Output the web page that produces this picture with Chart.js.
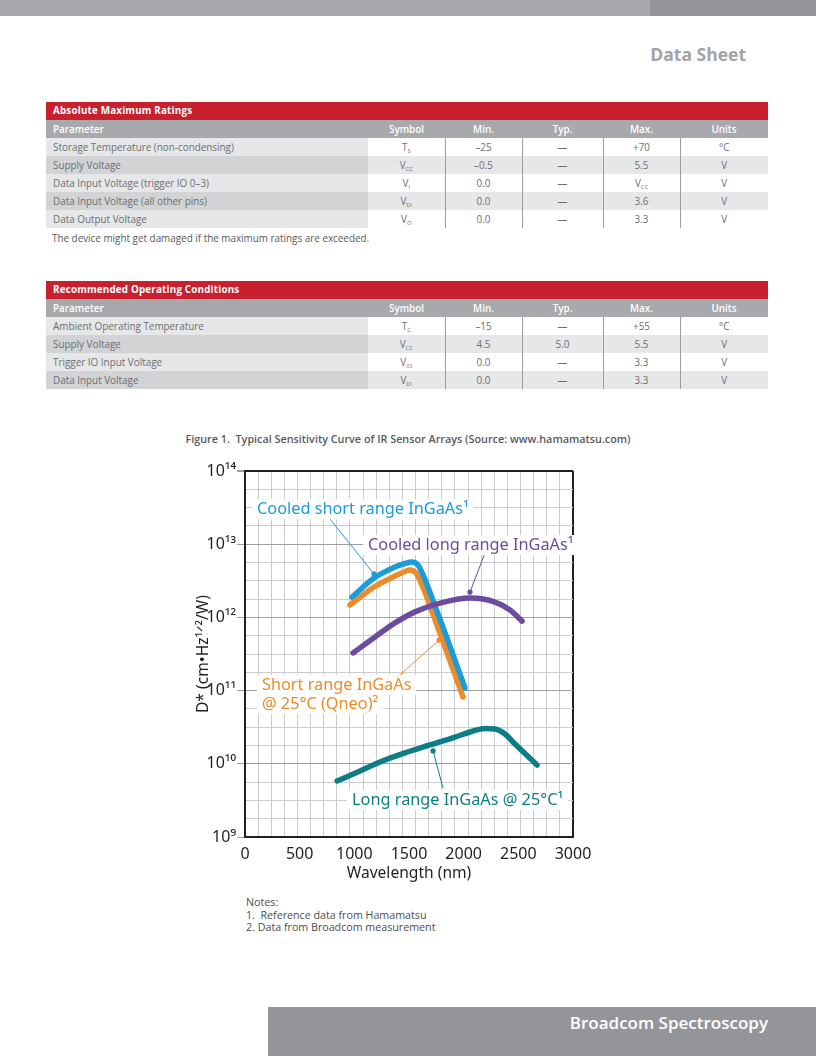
<!DOCTYPE html>
<html><head><meta charset="utf-8">
<script src="https://cdn.jsdelivr.net/npm/chart.js@4.4.1/dist/chart.umd.min.js"></script>
<style>
body{margin:0;width:816px;height:1056px;position:relative;background:#fff;font-family:"Open Sans","Noto Sans",sans-serif;overflow:hidden}
.abs{position:absolute}
.topbar1{left:0;top:0;width:650px;height:16px;background:#a7a9ac}
.topbar2{left:650px;top:0;width:166px;height:16px;background:#939598}
.ds{right:70px;top:41px;font-size:17.5px;font-weight:700;color:#a1a3a6;line-height:26px}
table{position:absolute;left:46px;width:722px;border-collapse:collapse;table-layout:fixed;font-size:9.9px;color:#6d6e71}
td{height:18px;padding:0;line-height:18px;text-align:center;white-space:nowrap}
td.p{text-align:left;padding-left:7px}
tr.t td{background:#c8202f;color:#fff;font-weight:700;text-align:left;padding-left:7px;font-size:9.8px;letter-spacing:0.2px}
tr.h td{background:#a7a9ac;color:#fff;font-weight:600}
tr.o td{background:#fff}
tr.o td.p{background:#e6e7e8}
tr.e td{background:#e6e7e8}
tr.e td.p{background:#d1d3d4}
tr.o td.s,tr.e td.s{border-left:1px solid #9a9c9f}
sub{font-size:5.8px;vertical-align:-2px;line-height:0}
.note{left:52px;font-size:9.9px;color:#58595b}
.cap{left:0;width:816px;text-align:center;top:431px;font-size:10.8px;font-weight:600;color:#58595b}
.notes{left:246px;top:896px;font-size:10.7px;color:#4d4d4f;line-height:12.5px}
.botbar{left:268px;top:1007px;width:548px;height:49px;background:#939598}
.bottxt{right:48px;top:1011px;font-size:17px;color:#fff;font-weight:600}
canvas{position:absolute;left:190px;top:455px}
</style></head><body>
<div class="abs topbar1"></div><div class="abs topbar2"></div>
<div class="abs ds">Data Sheet</div>

<table style="top:102px">
<colgroup><col style="width:322px"><col style="width:77px"><col style="width:77px"><col style="width:81px"><col style="width:77px"><col style="width:88px"></colgroup>
<tr class="t"><td colspan="6">Absolute Maximum Ratings</td></tr>
<tr class="h"><td class="p">Parameter</td><td>Symbol</td><td>Min.</td><td>Typ.</td><td>Max.</td><td>Units</td></tr>
<tr class="o"><td class="p">Storage Temperature (non-condensing)</td><td>T<sub>S</sub></td><td class="s">–25</td><td class="s">—</td><td class="s">+70</td><td class="s">°C</td></tr>
<tr class="e"><td class="p">Supply Voltage</td><td>V<sub>CC</sub></td><td class="s">–0.5</td><td class="s">—</td><td class="s">5.5</td><td class="s">V</td></tr>
<tr class="o"><td class="p">Data Input Voltage (trigger IO 0–3)</td><td>V<sub>I</sub></td><td class="s">0.0</td><td class="s">—</td><td class="s">V<sub>CC</sub></td><td class="s">V</td></tr>
<tr class="e"><td class="p">Data Input Voltage (all other pins)</td><td>V<sub>DI</sub></td><td class="s">0.0</td><td class="s">—</td><td class="s">3.6</td><td class="s">V</td></tr>
<tr class="o"><td class="p">Data Output Voltage</td><td>V<sub>O</sub></td><td class="s">0.0</td><td class="s">—</td><td class="s">3.3</td><td class="s">V</td></tr>
</table>
<div class="abs note" style="top:231px">The device might get damaged if the maximum ratings are exceeded.</div>

<table style="top:281px">
<colgroup><col style="width:322px"><col style="width:77px"><col style="width:77px"><col style="width:81px"><col style="width:77px"><col style="width:88px"></colgroup>
<tr class="t"><td colspan="6">Recommended Operating Conditions</td></tr>
<tr class="h"><td class="p">Parameter</td><td>Symbol</td><td>Min.</td><td>Typ.</td><td>Max.</td><td>Units</td></tr>
<tr class="o"><td class="p">Ambient Operating Temperature</td><td>T<sub>C</sub></td><td class="s">–15</td><td class="s">—</td><td class="s">+55</td><td class="s">°C</td></tr>
<tr class="e"><td class="p">Supply Voltage</td><td>V<sub>CC</sub></td><td class="s">4.5</td><td class="s">5.0</td><td class="s">5.5</td><td class="s">V</td></tr>
<tr class="o"><td class="p">Trigger IO Input Voltage</td><td>V<sub>IO</sub></td><td class="s">0.0</td><td class="s">—</td><td class="s">3.3</td><td class="s">V</td></tr>
<tr class="e"><td class="p">Data Input Voltage</td><td>V<sub>DI</sub></td><td class="s">0.0</td><td class="s">—</td><td class="s">3.3</td><td class="s">V</td></tr>
</table>

<div class="abs cap">Figure 1.&nbsp; Typical Sensitivity Curve of IR Sensor Arrays (Source: www.hamamatsu.com)</div>
<canvas id="c" width="420" height="430"></canvas>
<div class="abs notes">Notes:<br>1.&nbsp; Reference data from Hamamatsu<br>2. Data from Broadcom measurement</div>
<div class="abs botbar"></div>
<div class="abs bottxt">Broadcom Spectroscopy</div>

<script>
// ---- data (wavelength in nm, D* in cm·Hz^1/2/W) ----
const xLabelTicks = [0, 500, 1000, 1500, 2000, 2500, 3000];
const yDecades = [9, 10, 11, 12, 13, 14];

const coolShortNm = [979, 1180, 1372, 1463, 1527, 1582, 1637, 1711, 1857, 2012];
const coolShortD  = [1.9e12, 3.45e12, 4.89e12, 5.45e12, 5.71e12, 5.2e12, 3.56e12, 1.84e12, 4.76e11, 1.09e11];

const shortQneoNm = [960, 1180, 1372, 1463, 1509, 1564, 1619, 1692, 1839, 1994];
const shortQneoD  = [1.48e12, 2.6e12, 3.68e12, 4.24e12, 4.45e12, 4.05e12, 2.77e12, 1.43e12, 3.59e11, 8.18e10];

const coolLongNm = [988, 1189, 1372, 1555, 1784, 2058, 2287, 2424, 2534];
const coolLongD  = [3.27e11, 5.4e11, 8.4e11, 1.19e12, 1.57e12, 1.84e12, 1.62e12, 1.26e12, 8.9e11];

const longNm = [842, 1052, 1235, 1463, 1692, 1921, 2058, 2195, 2287, 2378, 2470, 2671];
const longD  = [5.82e9, 7.98e9, 1.06e10, 1.41e10, 1.81e10, 2.32e10, 2.72e10, 3.03e10, 2.99e10, 2.55e10, 1.86e10, 9.63e9];

const seriesNames = ['Cooled short range InGaAs¹', 'Short range InGaAs @ 25°C (Qneo)²', 'Cooled long range InGaAs¹', 'Long range InGaAs @ 25°C¹'];

// ---- styles ----
const colors = {blue:'#1b9cd8', orange:'#ec8b2b', purple:'#6b4c9e', teal:'#0e7d85'};
const FONT = '"Noto Sans", "DejaVu Sans", sans-serif';
const dark = '#231f20';

const pts = (xs, ys) => xs.map((x, i) => ({x, y: ys[i]}));
const sup = s => String(s).split('').map(ch => '⁰¹²³⁴⁵⁶⁷⁸⁹'['0123456789'.indexOf(ch)]).join('');

// annotation placement (data units)
const notes = [
  {lines:[seriesNames[0]], color:colors.blue, x:110, y:[3.0e13], from:[777, 2.21e13], to:[1180, 3.92e12]},
  {lines:[seriesNames[2]], color:colors.purple, x:1125, y:[9.75e12], from:[2195, 7.6e12], to:[2058, 2.22e12]},
  {lines:['Short range InGaAs', '@ 25°C (Qneo)²'], color:colors.orange, x:155, y:[1.19e11, 6.56e10], from:[1345, 1.31e11], to:[1775, 4.9e11]},
  {lines:[seriesNames[3]], color:colors.teal, x:979, y:[3.2e9], from:[1811, 4.67e9], to:[1720, 1.5e10]}
];

const annot = {
  id:'annot',
  afterDatasetsDraw(c){
    const ctx = c.ctx, xs = c.scales.x, ys = c.scales.y;
    ctx.save();
    ctx.font = '16.3px ' + FONT;
    ctx.textBaseline = 'middle';
    notes.forEach(n => {
      const fx = xs.getPixelForValue(n.from[0]), fy = ys.getPixelForValue(n.from[1]);
      const tx = xs.getPixelForValue(n.to[0]), ty = ys.getPixelForValue(n.to[1]);
      ctx.strokeStyle = n.color; ctx.lineWidth = 1;
      ctx.beginPath(); ctx.moveTo(fx, fy); ctx.lineTo(tx, ty); ctx.stroke();
      ctx.fillStyle = n.color; ctx.beginPath(); ctx.arc(tx, ty, 2.6, 0, Math.PI*2); ctx.fill();
      const x = xs.getPixelForValue(n.x);
      n.lines.forEach((t, i) => {
        const y = ys.getPixelForValue(n.y[i]);
        const w = ctx.measureText(t).width;
        ctx.fillStyle = '#fff'; ctx.fillRect(x - 5, y - 10, w + 10, 20);
      });
      n.lines.forEach((t, i) => {
        const y = ys.getPixelForValue(n.y[i]);
        ctx.fillStyle = n.color; ctx.fillText(t, x, y);
      });
    });
    ctx.restore();
  }
};

const ds = (label, xs, ys, color) => ({
  label, data: pts(xs, ys), borderColor: color, backgroundColor: color,
  borderWidth: 5.5, pointRadius: 0, showLine: true, fill: false,
  cubicInterpolationMode: 'monotone', borderCapStyle: 'round', borderJoinStyle: 'round'
});

new Chart(document.getElementById('c'), {
  type: 'scatter',
  data: {datasets: [
    ds(seriesNames[3], longNm, longD, colors.teal),
    ds(seriesNames[2], coolLongNm, coolLongD, colors.purple),
    ds(seriesNames[0], coolShortNm, coolShortD, colors.blue),
    ds(seriesNames[1], shortQneoNm, shortQneoD, colors.orange)
  ]},
  options: {
    responsive: false, animation: false, devicePixelRatio: 1,
    layout: {padding: {top: 16, right: 37, left: 0, bottom: 0}},
    plugins: {legend: {display: false}, tooltip: {enabled: false}},
    scales: {
      x: {
        type: 'linear', min: 0, max: 3000,
        afterBuildTicks(s){
          const v = new Set();
          for (let i = 0; i <= 25; i++) v.add(i * 120);
          xLabelTicks.forEach(t => v.add(t));
          s.ticks = [...v].sort((a, b) => a - b).map(value => ({value}));
        },
        afterFit(s){ s.height = 48; s.paddingLeft = 0; s.paddingRight = 0; },
        ticks: {
          autoSkip: false, maxRotation: 0, padding: 8, color: dark,
          font: {family: FONT, size: 16},
          callback: v => xLabelTicks.includes(v) ? String(v) : ''
        },
        grid: {
          drawTicks: false,
          color: ctx => { const v = ctx.tick && ctx.tick.value; if (v === 3000) return dark; return (v % 120 === 0) ? '#cbcccf' : 'rgba(0,0,0,0)'; },
          lineWidth: ctx => (ctx.tick && ctx.tick.value === 3000) ? 2 : 1
        },
        border: {color: dark, width: 2},
        title: {display: true, text: 'Wavelength (nm)', color: dark, font: {family: FONT, size: 15.6}, padding: {top: 4, bottom: 2}}
      },
      y: {
        type: 'logarithmic', min: 1e9, max: 1e14,
        afterBuildTicks(s){
          const t = [];
          for (let i = 0; i <= 20; i++) t.push({value: Math.pow(10, 9 + i * 0.25)});
          s.ticks = t;
        },
        afterFit(s){ s.width = 55; s.paddingTop = 0; s.paddingBottom = 0; },
        ticks: {
          autoSkip: false, padding: 1, color: dark,
          font: {family: FONT, size: 16},
          callback: v => { const e = Math.log10(v); const r = Math.round(e); return (Math.abs(e - r) < 1e-6 && yDecades.includes(r)) ? '10' + sup(r) : ''; }
        },
        grid: {
          tickLength: 8,
          color: ctx => { const v = ctx.tick && ctx.tick.value; if (!v) return '#cbcccf'; const e = Math.log10(v); if (Math.abs(e - 14) < 1e-6) return dark; return Math.abs(e - Math.round(e)) < 1e-6 ? '#9d9fa2' : '#cbcccf'; },
          tickColor: ctx => { const v = ctx.tick && ctx.tick.value; if (!v) return 'rgba(0,0,0,0)'; const e = Math.log10(v); return Math.abs(e - Math.round(e)) < 1e-6 ? '#9d9fa2' : 'rgba(0,0,0,0)'; },
          lineWidth: ctx => { const v = ctx.tick && ctx.tick.value; return (v && Math.abs(Math.log10(v) - 14) < 1e-6) ? 2 : 1; }
        },
        border: {color: dark, width: 2},
        title: {display: true, text: 'D* (cm•Hz¹ᐟ²/W)', color: dark, font: {family: FONT, size: 15.6}}
      }
    }
  },
  plugins: [annot]
});
</script>
</body></html>
